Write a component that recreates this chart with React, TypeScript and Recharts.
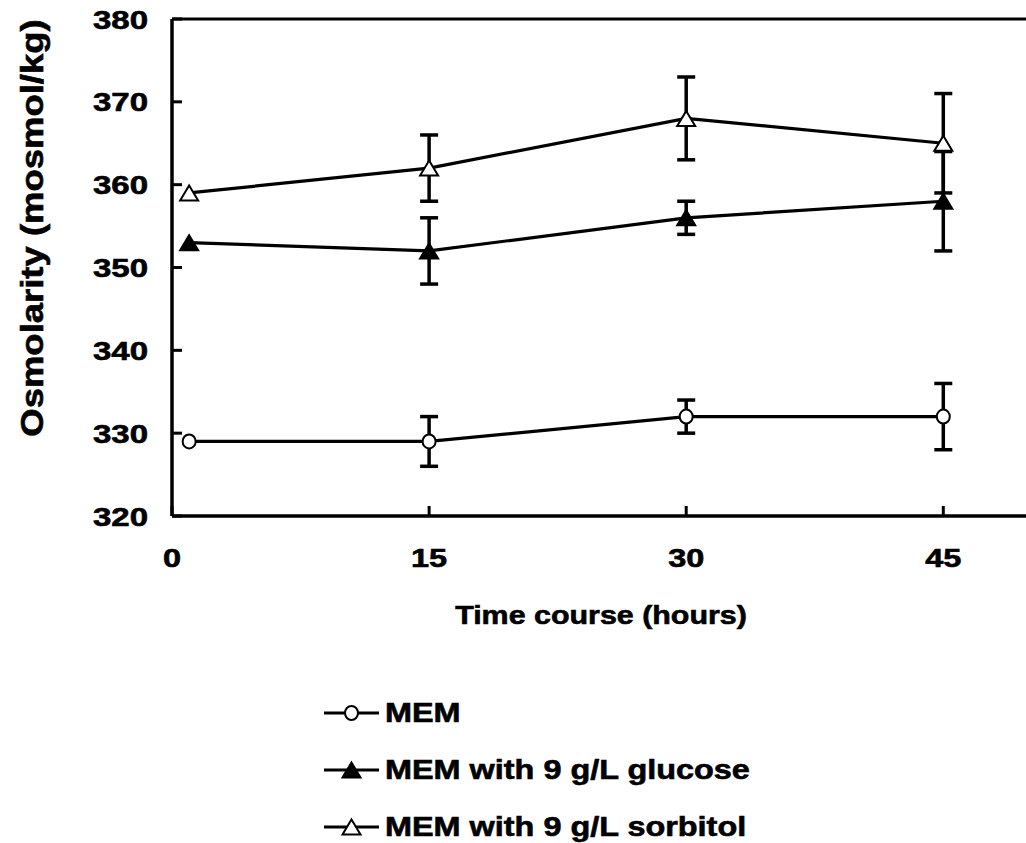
import React from 'react';
import {
  LineChart, Line, XAxis, YAxis, ErrorBar, ReferenceLine, Legend, Label,
} from 'recharts';

// ─── Data ────────────────────────────────────────────────────────────────────

const hours = [1, 15, 30, 45];

const memValues = [329, 329, 332, 332];
const memErrors = [null, 3, 2, 4];

const glucoseValues = [353, 352, 356, 358];
const glucoseErrors = [null, 4, 2, 6];

const sorbitolValues = [359, 362, 368, 365];
const sorbitolErrors = [null, 4, 5, 6];

const xTicks = [0, 15, 30, 45];
const yTicks = [320, 330, 340, 350, 360, 370, 380];

const SERIES_NAMES = {
  mem: 'MEM',
  glucose: 'MEM with 9 g/L glucose',
  sorbitol: 'MEM with 9 g/L sorbitol',
};

const rows = hours.map((h, i) => ({
  hour: h,
  mem: memValues[i],
  memErr: memErrors[i],
  glucose: glucoseValues[i],
  glucoseErr: glucoseErrors[i],
  sorbitol: sorbitolValues[i],
  sorbitolErr: sorbitolErrors[i],
}));

// ─── Styling ─────────────────────────────────────────────────────────────────

const FONT = '"Liberation Sans", Arial, Helvetica, sans-serif';
const INK = '#000';
const TEXT_STROKE = 0.6; // heavier strokes, like the printed figure

// ─── Markers ─────────────────────────────────────────────────────────────────

function circleMarker(cx: number, cy: number, key?: string) {
  return <ellipse key={key} cx={cx} cy={cy} rx={6.5} ry={7} fill="#fff" stroke={INK} strokeWidth={2} />;
}

function triangleMarker(cx: number, cy: number, filled: boolean, key?: string) {
  const hw = 9;
  const hh = 7.5;
  const pts = `${cx},${cy - hh} ${cx + hw},${cy + hh} ${cx - hw},${cy + hh}`;
  return (
    <polygon key={key} points={pts} fill={filled ? INK : '#fff'} stroke={INK} strokeWidth={2} strokeLinejoin="miter" />
  );
}

const MARKERS: Record<string, (cx: number, cy: number, key?: string) => React.ReactElement> = {
  mem: (cx, cy, key) => circleMarker(cx, cy, key),
  glucose: (cx, cy, key) => triangleMarker(cx, cy, true, key),
  sorbitol: (cx, cy, key) => triangleMarker(cx, cy, false, key),
};

const dotFor = (key: string) => (props: any) => {
  const { cx, cy, index } = props;
  if (cx == null || cy == null) return <g key={`${key}-${index}`} />;
  return MARKERS[key](cx, cy, `${key}-${index}`);
};

// ─── Axis ticks (inward tick marks) ──────────────────────────────────────────

const Y_TICK_MARGIN = 24;

function YTick(props: any) {
  const { x, y, payload } = props;
  const axisX = x + Y_TICK_MARGIN;
  return (
    <g>
      <line x1={axisX} x2={axisX + 10} y1={y} y2={y} stroke={INK} strokeWidth={3} />
      <text
        transform={`translate(${x},${y + 9.5}) scale(1.27,1)`}
        textAnchor="end"
        fontFamily={FONT}
        fontWeight="bold"
        fontSize={26}
        fill={INK}
        stroke={INK}
        strokeWidth={TEXT_STROKE}
      >
        {payload.value}
      </text>
    </g>
  );
}

function XTick(props: any) {
  const { x, y, payload } = props;
  return (
    <g>
      <line x1={x} x2={x} y1={y} y2={y - 10} stroke={INK} strokeWidth={3} />
      <text
        transform={`translate(${x},${y + 51}) scale(1.25,1)`}
        textAnchor="middle"
        fontFamily={FONT}
        fontWeight="bold"
        fontSize={26}
        fill={INK}
        stroke={INK}
        strokeWidth={TEXT_STROKE}
      >
        {payload.value}
      </text>
    </g>
  );
}

// ─── Legend ──────────────────────────────────────────────────────────────────

function renderLegend(props: any) {
  const { payload = [] } = props;
  return (
    <div style={{ display: 'flex', flexDirection: 'column' }}>
      {payload.map((entry: any) => (
        <div key={entry.dataKey} style={{ display: 'flex', alignItems: 'center', height: 57 }}>
          <svg width={60} height={22} style={{ display: 'block' }}>
            <line x1={2} x2={57} y1={11} y2={11} stroke={INK} strokeWidth={3} />
            {MARKERS[entry.dataKey](29.5, 11)}
          </svg>
          <span
            style={{
              fontFamily: FONT,
              fontWeight: 'bold',
              fontSize: 27,
              lineHeight: '30px',
              color: INK,
              WebkitTextStroke: `${TEXT_STROKE}px ${INK}`,
              whiteSpace: 'nowrap',
              marginLeft: 3,
              display: 'inline-block',
              transform: 'scaleX(1.2)',
              transformOrigin: 'left center',
            }}
          >
            {entry.value}
          </span>
        </div>
      ))}
    </div>
  );
}

// ─── Chart ───────────────────────────────────────────────────────────────────

export default function App() {
  return (
    <div
      style={{
        position: 'fixed', left: 0, top: 0, width: 1026, height: 843,
        overflow: 'hidden', background: '#fff',
      }}
    >
      <LineChart width={1100} height={843} data={rows} margin={{ top: 19, right: 71, left: 22, bottom: 247 }}>
        <XAxis
          dataKey="hour"
          type="number"
          domain={[0, 50]}
          ticks={xTicks}
          interval={0}
          height={80}
          tickSize={0}
          tickMargin={0}
          tick={<XTick />}
          tickLine={false}
          axisLine={{ stroke: INK, strokeWidth: 3.5 }}
        >
          <Label
            content={() => (
              <text
                transform="translate(601,624) scale(1.17,1)"
                textAnchor="middle"
                fontFamily={FONT}
                fontWeight="bold"
                fontSize={26}
                fill={INK}
                stroke={INK}
                strokeWidth={TEXT_STROKE}
              >
                Time course (hours)
              </text>
            )}
          />
        </XAxis>
        <YAxis
          type="number"
          domain={[320, 380]}
          ticks={yTicks}
          interval={0}
          width={150}
          tickSize={0}
          tickMargin={Y_TICK_MARGIN}
          tick={<YTick />}
          tickLine={false}
          axisLine={{ stroke: INK, strokeWidth: 3.5 }}
        >
          <Label
            content={() => (
              <text
                transform="translate(43,228) rotate(-90) scale(1.14,1)"
                textAnchor="middle"
                fontFamily={FONT}
                fontWeight="bold"
                fontSize={32}
                fill={INK}
                stroke={INK}
                strokeWidth={TEXT_STROKE}
              >
                Osmolarity (mosmol/kg)
              </text>
            )}
          />
        </YAxis>
        <ReferenceLine y={380} stroke={INK} strokeWidth={3} />
        <Legend
          layout="vertical"
          align="center"
          verticalAlign="middle"
          content={renderLegend}
          wrapperStyle={{ left: 322, top: 684, width: 560 }}
        />
        <Line
          dataKey="mem"
          name={SERIES_NAMES.mem}
          type="linear"
          stroke={INK}
          strokeWidth={3.2}
          dot={dotFor('mem')}
          activeDot={false}
          isAnimationActive={false}
        >
          <ErrorBar dataKey="memErr" direction="y" width={9} stroke={INK} strokeWidth={3.5} isAnimationActive={false} />
        </Line>
        <Line
          dataKey="glucose"
          name={SERIES_NAMES.glucose}
          type="linear"
          stroke={INK}
          strokeWidth={3.2}
          dot={dotFor('glucose')}
          activeDot={false}
          isAnimationActive={false}
        >
          <ErrorBar dataKey="glucoseErr" direction="y" width={9} stroke={INK} strokeWidth={3.5} isAnimationActive={false} />
        </Line>
        <Line
          dataKey="sorbitol"
          name={SERIES_NAMES.sorbitol}
          type="linear"
          stroke={INK}
          strokeWidth={3.2}
          dot={dotFor('sorbitol')}
          activeDot={false}
          isAnimationActive={false}
        >
          <ErrorBar dataKey="sorbitolErr" direction="y" width={9} stroke={INK} strokeWidth={3.5} isAnimationActive={false} />
        </Line>
      </LineChart>
    </div>
  );
}
